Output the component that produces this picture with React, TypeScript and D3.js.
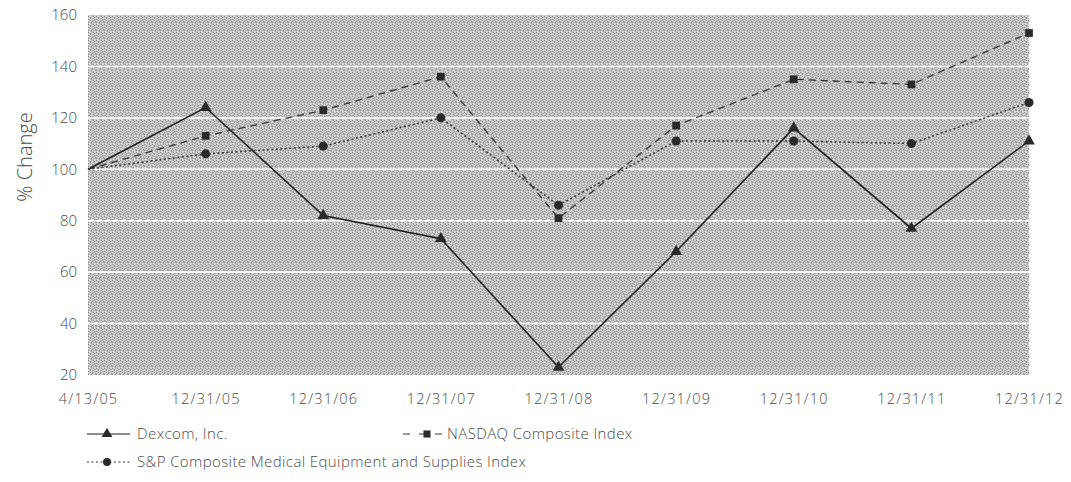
import * as d3 from 'd3';
import React, { useRef, useEffect } from 'react';

const dates = ["4/13/05", "12/31/05", "12/31/06", "12/31/07", "12/31/08", "12/31/09", "12/31/10", "12/31/11", "12/31/12"];
const dexcom = [100, 124, 82, 73, 23, 68, 116, 77, 111];
const nasdaq = [100, 113, 123, 136, 81, 117, 135, 133, 153];
const spMedical = [100, 106, 109, 120, 86, 111, 111, 110, 126];
const yTicks = [20, 40, 60, 80, 100, 120, 140, 160];

const seriesNames = ["Dexcom, Inc.", "NASDAQ Composite Index", "S&P Composite Medical Equipment and Supplies Index"];

// halftone texture rows ("d" dark, "m" mid, "l" light, "." base)
const ditherRows = [
    "d.lm.dl.",
    ".md.l.dm",
    "l.d.md.l",
    "dm.l.ldm",
    ".ld.dm..",
    "m.l.d.ld",
    "d.mdl..m",
    ".l.m.dl.",
];

function Chart({ width, height }) {
    const ref = useRef(null);

    useEffect(() => {
        draw();
    }, []);

    const draw = () => {
        const left = 88;
        const right = 1029;
        const top = 15;
        const bottom = 375;
        const textColor = "#4a4a4a";
        const font = "'Open Sans', 'DejaVu Sans', sans-serif";

        const svg = d3.select(ref.current)
            .attr("width", width)
            .attr("height", height);
        svg.selectAll("*").remove();

        // dithered grey background
        const defs = svg.append("defs");
        const pat = defs.append("pattern")
            .attr("id", "dither")
            .attr("width", 8)
            .attr("height", 8)
            .attr("patternUnits", "userSpaceOnUse");
        pat.append("rect").attr("width", 8).attr("height", 8).attr("fill", "#cacaca");
        const shade = { d: "#909090", m: "#acacac", l: "#e6e6e6" };
        ditherRows.forEach((row, py) => {
            row.split("").forEach((c, px) => {
                if (c === ".") return;
                pat.append("rect").attr("x", px).attr("y", py).attr("width", 1).attr("height", 1)
                    .attr("fill", shade[c]);
            });
        });

        const x = d3.scalePoint()
            .domain(dates)
            .range([left, right]);

        const y = d3.scaleLinear()
            .domain([20, 160])
            .range([bottom, top]);

        svg.append("rect")
            .attr("x", left)
            .attr("y", top)
            .attr("width", right - left)
            .attr("height", bottom - top)
            .attr("fill", "url(#dither)");

        // gridlines
        svg.append("g")
            .selectAll("line")
            .data(yTicks.filter(d => d > 20 && d < 160))
            .enter()
            .append("line")
            .attr("x1", left)
            .attr("x2", right)
            .attr("y1", d => y(d))
            .attr("y2", d => y(d))
            .attr("stroke", "#ffffff")
            .attr("stroke-width", 1.6);

        // y axis labels
        const yAxis = svg.append("g")
            .attr("transform", `translate(${left - 11},0)`)
            .call(d3.axisLeft(y).tickValues(yTicks).tickSize(0).tickPadding(0));
        yAxis.select(".domain").remove();
        yAxis.selectAll("text")
            .attr("fill", textColor)
            .attr("font-family", font)
            .attr("font-size", 15)
            .attr("font-weight", 300);

        // x axis labels
        const xAxis = svg.append("g")
            .attr("transform", `translate(0,${bottom + 19})`)
            .call(d3.axisBottom(x).tickSize(0).tickPadding(0));
        xAxis.select(".domain").remove();
        xAxis.selectAll("text")
            .attr("fill", textColor)
            .attr("font-family", font)
            .attr("font-size", 14.5)
            .attr("letter-spacing", 1.2)
            .attr("font-weight", 300);

        svg.append("text")
            .attr("transform", `translate(32,157) rotate(-90)`)
            .attr("text-anchor", "middle")
            .attr("fill", textColor)
            .attr("font-family", font)
            .attr("font-size", 20)
            .attr("font-weight", 300)
            .text("% Change");

        const line = d3.line()
            .x((d, i) => x(dates[i]))
            .y(d => y(d));

        const styles = [
            { data: dexcom, dash: null, width: 1.5, color: "#1a1a1a", shape: d3.symbolTriangle },
            { data: nasdaq, dash: "7,5", width: 1.3, color: "#333333", shape: d3.symbolSquare },
            { data: spMedical, dash: "2,2.5", width: 1.5, color: "#333333", shape: d3.symbolCircle },
        ];

        styles.forEach(s => {
            svg.append("path")
                .datum(s.data)
                .attr("d", line)
                .attr("fill", "none")
                .attr("stroke", s.color)
                .attr("stroke-width", s.width)
                .attr("stroke-dasharray", s.dash);

            svg.append("g")
                .selectAll("path")
                .data(s.data.slice(1))
                .enter()
                .append("path")
                .attr("transform", (d, i) => `translate(${x(dates[i + 1])},${y(d)})`)
                .attr("d", d3.symbol().type(s.shape).size(s.shape === d3.symbolCircle ? 65 : 60))
                .attr("fill", "#2a2a2a");
        });

        // legend
        const legendPos = [
            { x: 87, y: 434 },
            { x: 403, y: 434 },
            { x: 87, y: 462 },
        ];
        styles.forEach((s, i) => {
            const p = legendPos[i];
            const g = svg.append("g").attr("transform", `translate(${p.x},${p.y})`);
            g.append("line")
                .attr("x1", 0)
                .attr("x2", i === 1 ? 40 : 43)
                .attr("y1", 0)
                .attr("y2", 0)
                .attr("stroke", s.color)
                .attr("stroke-width", 1.2)
                .attr("stroke-dasharray", i === 1 ? "7,9" : s.dash);
            g.append("path")
                .attr("transform", `translate(${i === 1 ? 24 : 20},0)`)
                .attr("d", d3.symbol().type(s.shape).size(50))
                .attr("fill", "#2a2a2a");
            g.append("text")
                .attr("x", i === 1 ? 44 : 50)
                .attr("y", 0)
                .attr("dy", "0.35em")
                .attr("fill", textColor)
                .attr("font-family", font)
                .attr("font-size", 15)
                .attr("letter-spacing", 0.4)
                .attr("font-weight", 300)
                .text(seriesNames[i]);
        });
    };

    return (
        <svg ref={ref} style={{ display: "block" }}></svg>
    );
}

export default function App() {
    return (
        <div style={{ margin: -8 }}>
            <Chart width={1071} height={482} />
        </div>
    );
}
